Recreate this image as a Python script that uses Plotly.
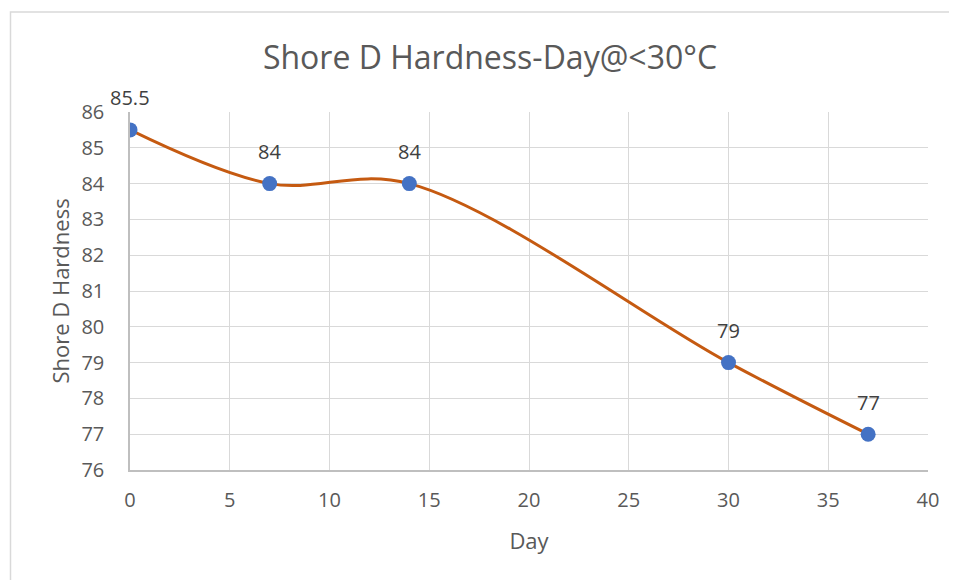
import plotly.graph_objects as go

days = [0, 7, 14, 30, 37]
hardness = [85.5, 84, 84, 79, 77]
labels = ["85.5", "84", "84", "79", "77"]
x_ticks = [0, 5, 10, 15, 20, 25, 30, 35, 40]
y_ticks = [76, 77, 78, 79, 80, 81, 82, 83, 84, 85, 86]

FONT = "Open Sans"
TXT = "#595959"

# page body adds an 8px offset; compensate
OFF = 8
W, H = 957, 580
L, T = 130 - OFF, 112 - OFF
R = W - (928 - OFF)
B = H - (470 - OFF)
pw, ph = W - L - R, H - T - B

fig = go.Figure()
fig.add_trace(go.Scatter(
    x=days, y=hardness, mode="lines+markers",
    line=dict(color="#C55A11", width=3, shape="spline", smoothing=1.0),
    marker=dict(color="#4472C4", size=15),
    hoverinfo="x+y", showlegend=False,
))
for xv, yv, t in zip(days, hardness, labels):
    fig.add_annotation(x=xv, y=yv, text=t, showarrow=False, yshift=32,
                       font=dict(family=FONT, size=20, color="#404040"))

fig.add_shape(type="rect", xref="paper", yref="paper",
              x0=(10.5 - OFF - L) / pw, x1=(W + 20 - L) / pw,
              y0=(H - B - (H + 20)) / ph, y1=(H - B - (12 - OFF)) / ph,
              line=dict(color="#D9D9D9", width=1.5), layer="below")

fig.update_layout(
    width=W, height=H,
    margin=dict(l=L, r=R, t=T, b=B),
    paper_bgcolor="white", plot_bgcolor="white",
    title=dict(text="Shore D Hardness-Day@<30°C", xref="container", yref="container",
               x=(490 - OFF) / W, y=1 - (58 - OFF) / H, xanchor="center", yanchor="middle",
               font=dict(family=FONT, size=32, color=TXT)),
    xaxis=dict(range=[0, 40], tickvals=x_ticks, showgrid=True, gridcolor="#D9D9D9",
               gridwidth=1, showline=True, linecolor="#BFBFBF", linewidth=1.5,
               mirror=False, zeroline=False, ticks="", ticklabelstandoff=11,
               tickfont=dict(family=FONT, size=20, color=TXT),
               title=dict(text="Day", standoff=22, font=dict(family=FONT, size=22, color=TXT))),
    yaxis=dict(range=[76, 86], tickvals=y_ticks, showgrid=True, gridcolor="#D9D9D9",
               gridwidth=1, showline=True, linecolor="#BFBFBF", linewidth=1.5,
               zeroline=False, ticks="", ticklabelstandoff=20,
               tickfont=dict(family=FONT, size=20, color=TXT),
               title=dict(text="Shore D Hardness", standoff=6, font=dict(family=FONT, size=22, color=TXT))),
)
fig.write_html("out.html")
